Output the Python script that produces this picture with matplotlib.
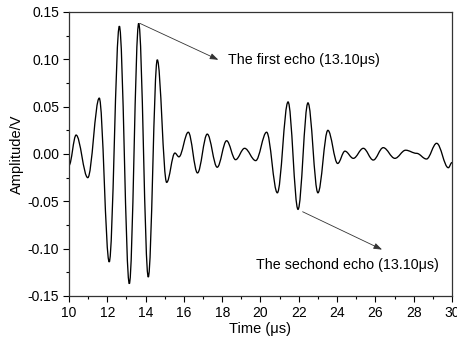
import matplotlib
matplotlib.use("Agg")
import matplotlib.pyplot as plt
from matplotlib.path import Path
from matplotlib.patches import PathPatch
from matplotlib.ticker import MultipleLocator, FormatStrFormatter

plt.rcParams['font.family'] = ['Liberation Sans', 'DejaVu Sans']
plt.rcParams['axes.unicode_minus'] = False

times = [10.0, 10.37, 10.98, 11.58, 12.10, 12.63, 13.15, 13.64, 14.14, 14.61,
         15.10, 15.53, 15.74, 16.23, 16.71, 17.22, 17.74, 18.23, 18.70, 19.17,
         19.75, 20.32, 20.88, 21.44, 21.96, 22.48, 23.00, 23.52, 24.03, 24.41,
         24.85, 25.37, 25.89, 26.41, 27.02, 27.58, 28.15, 28.67, 29.20, 29.81, 30.0]
amps = [-0.012, 0.020, -0.025, 0.059, -0.114, 0.135, -0.137, 0.138, -0.130, 0.0995,
        -0.030, 0.001, -0.003, 0.023, -0.020, 0.021, -0.014, 0.014, -0.006, 0.006,
        -0.007, 0.023, -0.041, 0.055, -0.0585, 0.054, -0.041, 0.025, -0.010, 0.003,
        -0.0046, 0.006, -0.0064, 0.0067, -0.0046, 0.004, 0.0007, -0.0053, 0.0113, -0.0145, -0.009]

first_label = "The first echo (13.10\u03bcs)"
second_label = "The sechond echo (13.10\u03bcs)"
first_peak = (13.70, 0.138)
first_text = (17.8, 0.0995)
second_peak = (22.2, -0.061)
second_text = (26.35, -0.101)

fig = plt.figure(figsize=(4.57, 3.37), dpi=100)
ax = fig.add_axes([0.151, 0.1217, 0.838, 0.8427])

# smooth curve through extrema (cubic Bezier segments, horizontal tangents)
verts = [(times[0], amps[0])]
codes = [Path.MOVETO]
k = 0.364
for i in range(1, len(times)):
    t0, a0 = times[i - 1], amps[i - 1]
    t1, a1 = times[i], amps[i]
    dt = t1 - t0
    verts += [(t0 + k * dt, a0), (t1 - k * dt, a1), (t1, a1)]
    codes += [Path.CURVE4] * 3
ax.add_patch(PathPatch(Path(verts, codes), fill=False, edgecolor='black', lw=0.95))

ax.set_xlim(10, 30)
ax.set_ylim(-0.15, 0.15)
ax.xaxis.set_major_locator(MultipleLocator(2))
ax.xaxis.set_minor_locator(MultipleLocator(1))
ax.yaxis.set_major_locator(MultipleLocator(0.05))
ax.yaxis.set_minor_locator(MultipleLocator(0.025))
ax.yaxis.set_major_formatter(FormatStrFormatter('%.2f'))
ax.tick_params(which='major', direction='out', length=4, width=0.8, labelsize=10,
               colors='black', pad=3)
ax.tick_params(which='minor', direction='out', length=2.5, width=0.8)
for s in ax.spines.values():
    s.set_linewidth(0.9)
    s.set_color('#333333')

ax.set_xlabel("Time (\u03bcs)", fontsize=10.5, labelpad=2)
ax.set_ylabel("Amplitude/V", fontsize=10.5, labelpad=3)

arrow = dict(arrowstyle='-|>,head_length=0.5,head_width=0.18', color='#333333', lw=0.6,
             shrinkA=0, shrinkB=0)
ax.annotate('', xy=first_text, xytext=first_peak, arrowprops=arrow)
ax.annotate('', xy=second_text, xytext=second_peak, arrowprops=arrow)
ax.text(18.3, 0.0995, first_label, fontsize=10.3, va='center', ha='left')
ax.text(19.77, -0.117, second_label, fontsize=10.3, va='center', ha='left')

fig.savefig("out.png", dpi=100)
